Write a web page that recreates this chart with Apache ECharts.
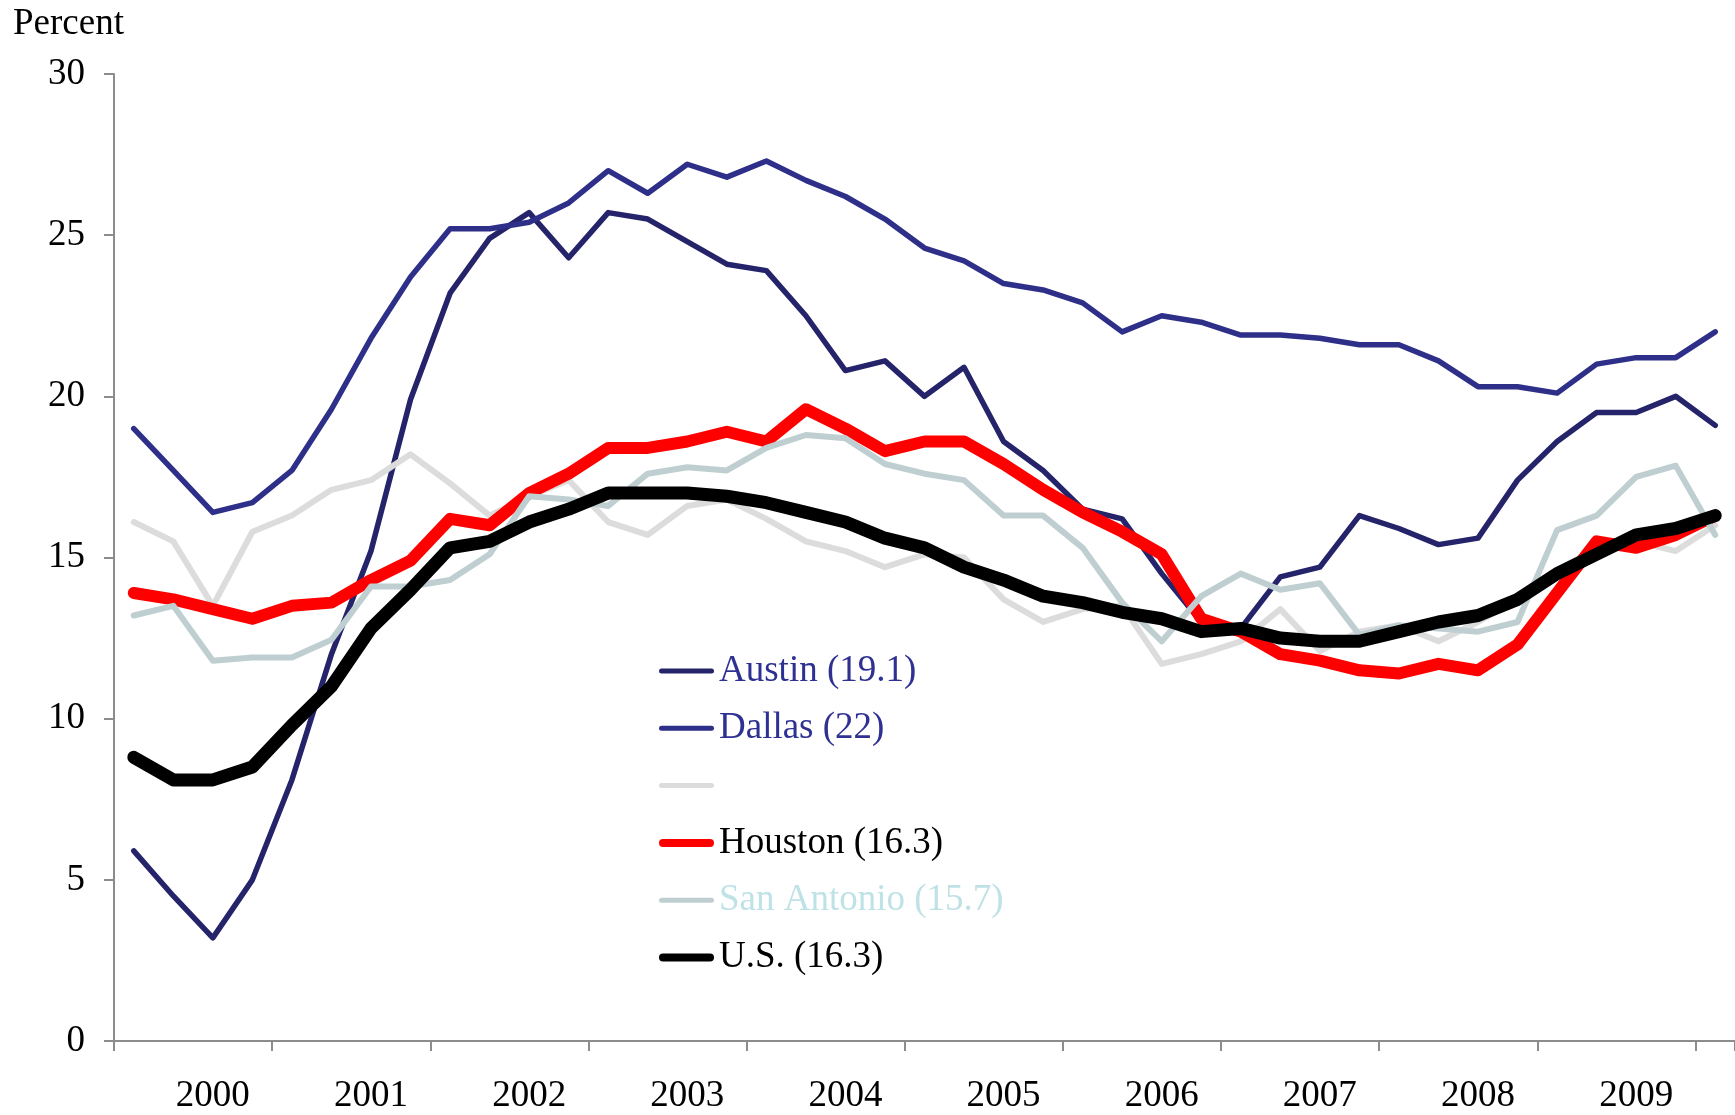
<!DOCTYPE html>
<html>
<head>
<meta charset="utf-8">
<title>Percent</title>
<script src="https://cdn.jsdelivr.net/npm/echarts@6/dist/echarts.min.js"></script>
<style>
  html, body { margin: 0; padding: 0; background: #fff; }
  #chart { width: 1735px; height: 1115px; }
</style>
</head>
<body>
<div id="chart"></div>
<script>
// quarters 2000Q1 .. 2010Q1
var quarters = [
    '2000Q1','2000Q2','2000Q3','2000Q4','2001Q1','2001Q2','2001Q3','2001Q4',
    '2002Q1','2002Q2','2002Q3','2002Q4','2003Q1','2003Q2','2003Q3','2003Q4',
    '2004Q1','2004Q2','2004Q3','2004Q4','2005Q1','2005Q2','2005Q3','2005Q4',
    '2006Q1','2006Q2','2006Q3','2006Q4','2007Q1','2007Q2','2007Q3','2007Q4',
    '2008Q1','2008Q2','2008Q3','2008Q4','2009Q1','2009Q2','2009Q3','2009Q4',
    '2010Q1'
];

var seriesNames = ['Austin (19.1)', 'Dallas (22)', ' ', 'Houston (16.3)', 'San Antonio (15.7)', 'U.S. (16.3)'];

var austin = [5.9, 4.5, 3.2, 5.0, 8.1, 12.0, 15.2, 19.9, 23.2, 24.9, 25.7, 24.3, 25.7, 25.5, 24.8, 24.1,
    23.9, 22.5, 20.8, 21.1, 20.0, 20.9, 18.6, 17.7, 16.5, 16.2, 14.5, 13.0, 12.8, 14.4, 14.7, 16.3,
    15.9, 15.4, 15.6, 17.4, 18.6, 19.5, 19.5, 20.0, 19.1];
var dallas = [19.0, 17.7, 16.4, 16.7, 17.7, 19.6, 21.8, 23.7, 25.2, 25.2, 25.4, 26.0, 27.0, 26.3, 27.2, 26.8,
    27.3, 26.7, 26.2, 25.5, 24.6, 24.2, 23.5, 23.3, 22.9, 22.0, 22.5, 22.3, 21.9, 21.9, 21.8, 21.6,
    21.6, 21.1, 20.3, 20.3, 20.1, 21.0, 21.2, 21.2, 22.0];
var unnamed = [16.1, 15.5, 13.5, 15.8, 16.3, 17.1, 17.4, 18.2, 17.3, 16.3, 16.9, 17.4, 16.1, 15.7, 16.6, 16.8,
    16.2, 15.5, 15.2, 14.7, 15.1, 15.0, 13.7, 13.0, 13.4, 13.5, 11.7, 12.0, 12.4, 13.4, 12.1, 12.7,
    12.9, 12.4, 13.0, 13.7, 14.6, 15.3, 15.5, 15.2, 16.0];
var houston = [13.9, 13.7, 13.4, 13.1, 13.5, 13.6, 14.3, 14.9, 16.2, 16.0, 17.0, 17.6, 18.4, 18.4, 18.6, 18.9,
    18.6, 19.6, 19.0, 18.3, 18.6, 18.6, 17.9, 17.1, 16.4, 15.8, 15.1, 13.1, 12.7, 12.0, 11.8, 11.5,
    11.4, 11.7, 11.5, 12.3, 13.9, 15.5, 15.3, 15.7, 16.3];
var sanAntonio = [13.2, 13.5, 11.8, 11.9, 11.9, 12.45, 14.1, 14.1, 14.3, 15.1, 16.9, 16.8, 16.6, 17.6, 17.8, 17.7,
    18.4, 18.8, 18.7, 17.9, 17.6, 17.4, 16.3, 16.3, 15.3, 13.6, 12.4, 13.8, 14.5, 14.0, 14.2, 12.6,
    12.9, 12.8, 12.7, 13.0, 15.85, 16.3, 17.5, 17.85, 15.7];
var us = [8.8, 8.1, 8.1, 8.5, 9.8, 11.0, 12.8, 14.0, 15.3, 15.5, 16.1, 16.5, 17.0, 17.0, 17.0, 16.9,
    16.7, 16.4, 16.1, 15.6, 15.3, 14.7, 14.3, 13.8, 13.6, 13.3, 13.1, 12.7, 12.8, 12.5, 12.4, 12.4,
    12.7, 13.0, 13.2, 13.7, 14.5, 15.1, 15.7, 15.9, 16.3];

var yTicks = [0, 5, 10, 15, 20, 25, 30];

var FONT = "'Liberation Serif', 'Times New Roman', serif";

// legend keys: rounded bars, thin and thick
var thinKey = 'path://M2.5,0H52.5A2.5,2.5,0,0,1,52.5,5H2.5A2.5,2.5,0,0,1,2.5,0Z';
var thickKey = 'path://M4,0H51A4,4,0,0,1,51,8H4A4,4,0,0,1,4,0Z';

var myChart = echarts.init(document.getElementById('chart'), null, {renderer: 'canvas'});

function lineSeries(name, data, color, width) {
    return {
        name: name,
        type: 'line',
        data: data,
        symbol: 'none',
        showSymbol: false,
        smooth: false,
        lineStyle: {color: color, width: width, join: 'round', cap: 'round'},
        itemStyle: {color: color},
        emphasis: {disabled: true}
    };
}

var options = {
    animation: false,
    backgroundColor: '#ffffff',
    title: {
        text: 'Percent',
        left: 13,
        top: 6,
        padding: 0,
        textStyle: {fontFamily: FONT, fontSize: 37, fontWeight: 'normal', color: '#000'}
    },
    legend: {
        orient: 'vertical',
        left: 659,
        top: 651,
        padding: 0,
        itemWidth: 55,
        itemHeight: 14,
        itemGap: 17.3,
        selectedMode: false,
        textStyle: {fontFamily: FONT, fontSize: 37, lineHeight: 40, color: '#000'},
        data: [
            {name: seriesNames[0], icon: thinKey, textStyle: {color: '#2e3192'}},
            {name: seriesNames[1], icon: thinKey, textStyle: {color: '#2e3192'}},
            {name: seriesNames[2], icon: thinKey},
            {name: seriesNames[3], icon: thickKey, textStyle: {color: '#000000'}},
            {name: seriesNames[4], icon: thinKey, textStyle: {color: '#bfe2e7'}},
            {name: seriesNames[5], icon: thickKey, textStyle: {color: '#000000'}}
        ]
    },
    grid: {
        left: 114,
        top: 74,
        width: 1629.75,
        height: 970.5
    },
    xAxis: {
        type: 'category',
        data: quarters,
        boundaryGap: true,
        axisLine: {lineStyle: {color: '#8c8c8c', width: 2}},
        axisTick: {show: true, interval: 3, length: 10, lineStyle: {color: '#8c8c8c', width: 2}},
        axisLabel: {
            interval: function (index) { return index % 4 === 2; },
            formatter: function (value) { return value.slice(0, 4); },
            margin: 37,
            fontFamily: FONT,
            fontSize: 37,
            color: '#000'
        },
        splitLine: {show: false}
    },
    yAxis: {
        type: 'value',
        min: yTicks[0],
        max: yTicks[yTicks.length - 1],
        interval: 5,
        axisLine: {show: true, lineStyle: {color: '#8c8c8c', width: 2}},
        axisTick: {show: true, length: 10, lineStyle: {color: '#8c8c8c', width: 2}},
        axisLabel: {margin: 29, fontFamily: FONT, fontSize: 37, color: '#000'},
        splitLine: {show: false}
    },
    series: [
        lineSeries(seriesNames[0], austin, '#25246b', 5.5),
        lineSeries(seriesNames[1], dallas, '#2e2f88', 5.5),
        lineSeries(seriesNames[2], unnamed, '#dcdcdc', 6),
        lineSeries(seriesNames[3], houston, '#ff0000', 12),
        lineSeries(seriesNames[4], sanAntonio, '#bfcfd1', 6),
        lineSeries(seriesNames[5], us, '#000000', 13)
    ]
};

myChart.setOption(options);
</script>
</body>
</html>
